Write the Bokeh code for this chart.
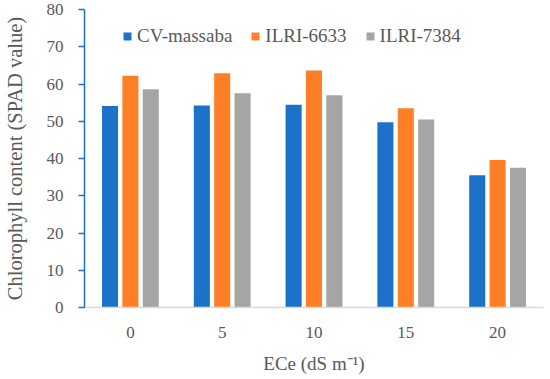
from bokeh.plotting import figure
from bokeh.models import ColumnDataSource, FactorRange, Legend, LegendItem, FixedTicker
from bokeh.transform import dodge
from bokeh.embed import file_html
from bokeh.resources import INLINE

categories = ["0", "5", "10", "15", "20"]
series_names = ["CV-massaba", "ILRI-6633", "ILRI-7384"]
cv_massaba = [54.1, 54.2, 54.4, 49.7, 35.5]
ilri_6633 = [62.2, 62.9, 63.6, 53.5, 39.6]
ilri_7384 = [58.6, 57.5, 57.0, 50.5, 37.5]
y_ticks = [0, 10, 20, 30, 40, 50, 60, 70, 80]

colors = ["#1B72C8", "#FF7F27", "#A5A5A5"]
FONT = "Liberation Serif"
TXT = "#595959"

source = ColumnDataSource(dict(cat=categories, a=cv_massaba, b=ilri_6633, c=ilri_7384))

p = figure(width=550, height=379, x_range=FactorRange(*categories), y_range=(0, 80),
           output_backend="svg", toolbar_location=None,
           min_border_left=84, min_border_right=7, min_border_top=9, min_border_bottom=72)
p.outline_line_color = None
p.xgrid.grid_line_color = None
p.ygrid.grid_line_color = None
p.x_range.range_padding = 0
p.x_range.factor_padding = 0

offs = [-0.222, 0.0, 0.222]
renderers = []
for col, off, color in zip(["a", "b", "c"], offs, colors):
    r = p.vbar(x=dodge("cat", off, range=p.x_range), top=col, width=0.175, source=source,
               fill_color=color, line_color=None)
    renderers.append(r)

# y axis
p.yaxis.ticker = FixedTicker(ticks=y_ticks)
p.yaxis.axis_line_color = "#1F6FC5"
p.yaxis.axis_line_width = 1.5
p.yaxis.major_tick_line_color = "#1F6FC5"
p.yaxis.major_tick_line_width = 1.5
p.yaxis.major_tick_out = 6
p.yaxis.major_tick_in = 0
p.yaxis.minor_tick_line_color = None
p.yaxis.major_label_text_font = FONT
p.yaxis.major_label_text_font_size = "17px"
p.yaxis.major_label_text_color = TXT
p.yaxis.major_label_standoff = 15
p.yaxis.axis_label = "Chlorophyll content (SPAD value)"
p.yaxis.axis_label_text_font = FONT
p.yaxis.axis_label_text_font_size = "20.5px"
p.yaxis.axis_label_text_font_style = "normal"
p.yaxis.axis_label_text_color = TXT
p.yaxis.axis_label_standoff = 18

# x axis
p.xaxis.axis_line_color = "#D9D9D9"
p.xaxis.axis_line_width = 1.5
p.xaxis.major_tick_line_color = None
p.xaxis.minor_tick_line_color = None
p.xaxis.major_label_text_font = FONT
p.xaxis.major_label_text_font_size = "17px"
p.xaxis.major_label_text_color = TXT
p.xaxis.major_label_standoff = 13
p.xaxis.axis_label = "ECe (dS m\u207b\u00b9)"
p.xaxis.axis_label_text_font = FONT
p.xaxis.axis_label_text_font_size = "19px"
p.xaxis.axis_label_text_font_style = "normal"
p.xaxis.axis_label_text_color = TXT
p.xaxis.axis_label_standoff = 12

legend = Legend(items=[LegendItem(label=n, renderers=[r]) for n, r in zip(series_names, renderers)],
                orientation="horizontal", location=(38, 260))
legend.label_text_font = FONT
legend.label_text_font_size = "19px"
legend.label_text_color = TXT
legend.glyph_width = 10
legend.glyph_height = 10
legend.label_height = 20
legend.label_standoff = 5
legend.spacing = 18
legend.padding = 0
legend.margin = 0
legend.border_line_color = None
legend.background_fill_alpha = 0
p.add_layout(legend, "center")

open("out.html", "w").write(file_html(p, INLINE))
